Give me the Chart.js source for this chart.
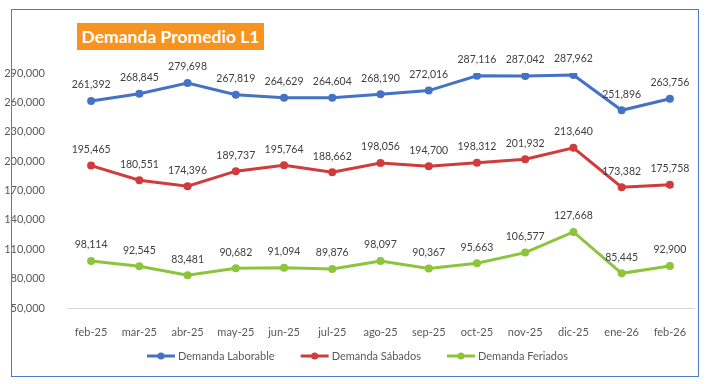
<!DOCTYPE html>
<html>
<head>
<meta charset="utf-8">
<script src="https://cdn.jsdelivr.net/npm/chart.js@4"></script>
<style>
  html, body { margin: 0; padding: 0; background: #fff; }
  #wrap { position: relative; width: 711px; height: 384px; }
  #frame { position: absolute; left: 11px; top: 9px; width: 686px; height: 366px; border: 1.5px solid #4a7cc6; }
  #title {
    position: absolute; left: 77px; top: 23px; width: 187px; height: 27px;
    background: #f7931e; color: #fff; font: bold 17.5px Lato, "Open Sans", sans-serif;
    line-height: 27px; text-align: center;
  }
</style>
</head>
<body>
<div id="wrap">
  <div id="frame"></div>
  <canvas id="chart" width="711" height="384"></canvas>
  <div id="title">Demanda Promedio L1</div>
</div>
<script>
const months = ["feb-25", "mar-25", "abr-25", "may-25", "jun-25", "jul-25", "ago-25", "sep-25", "oct-25", "nov-25", "dic-25", "ene-26", "feb-26"];
const laborable = [261392, 268845, 279698, 267819, 264629, 264604, 268190, 272016, 287116, 287042, 287962, 251896, 263756];
const sabados = [195465, 180551, 174396, 189737, 195764, 188662, 198056, 194700, 198312, 201932, 213640, 173382, 175758];
const feriados = [98114, 92545, 83481, 90682, 91094, 89876, 98097, 90367, 95663, 106577, 127668, 85445, 92900];
const seriesNames = ["Demanda Laborable", "Demanda Sábados", "Demanda Feriados"];
const colors = ["#4472c4", "#d03b3b", "#8cc43c"];

const fontFamily = "Lato, 'Open Sans', sans-serif";

// draws value labels above each point + the bottom legend
const labelsPlugin = {
    id: "labelsPlugin",
    afterDatasetsDraw(chart) {
        const ctx = chart.ctx;
        ctx.save();
        ctx.font = "10.5px " + fontFamily;
        ctx.fillStyle = "#404040";
        ctx.textAlign = "center";
        ctx.textBaseline = "middle";
        chart.data.datasets.forEach((ds, i) => {
            chart.getDatasetMeta(i).data.forEach((pt, j) => {
                ctx.fillText(ds.data[j].toLocaleString("en-US"), pt.x, pt.y - 16);
            });
        });

        // legend
        ctx.font = "11px " + fontFamily;
        ctx.textAlign = "left";
        ctx.fillStyle = "#595959";
        const y = 356;
        let widths = seriesNames.map(n => 31 + ctx.measureText(n).width);
        let gap = 26;
        let total = widths.reduce((a, b) => a + b, 0) + gap * (widths.length - 1);
        let x = (chart.width - total) / 2 + 2;
        seriesNames.forEach((n, i) => {
            ctx.strokeStyle = colors[i];
            ctx.lineWidth = 3;
            ctx.beginPath();
            ctx.moveTo(x, y);
            ctx.lineTo(x + 28, y);
            ctx.stroke();
            ctx.fillStyle = colors[i];
            ctx.beginPath();
            ctx.arc(x + 14, y, 3.5, 0, Math.PI * 2);
            ctx.fill();
            ctx.fillStyle = "#595959";
            ctx.fillText(n, x + 31, y);
            x += widths[i] + gap;
        });
        ctx.restore();
    }
};

function makeDataset(label, data, color) {
    return {
        label: label,
        data: data,
        borderColor: color,
        backgroundColor: color,
        borderWidth: 3,
        pointRadius: 4,
        pointBorderWidth: 0,
        pointHoverRadius: 4,
        pointBackgroundColor: color,
        tension: 0,
        fill: false
    };
}

new Chart(document.getElementById("chart").getContext("2d"), {
    type: "line",
    data: {
        labels: months,
        datasets: [
            makeDataset(seriesNames[0], laborable, colors[0]),
            makeDataset(seriesNames[1], sabados, colors[1]),
            makeDataset(seriesNames[2], feriados, colors[2])
        ]
    },
    options: {
        responsive: false,
        animation: false,
        layout: { padding: { left: 0, right: 17, top: 73, bottom: 46 } },
        plugins: {
            legend: { display: false },
            tooltip: { enabled: false }
        },
        scales: {
            x: {
                offset: true,
                grid: { display: false },
                border: { display: true, color: "#d9d9d9", width: 1 },
                ticks: { color: "#595959", font: { family: fontFamily, size: 11 }, padding: 10, maxRotation: 0, autoSkip: false },
                afterFit(scale) { scale.height = 30; }
            },
            y: {
                min: 50000,
                max: 290000,
                grid: { display: false },
                border: { display: false },
                ticks: {
                    stepSize: 30000,
                    color: "#595959",
                    font: { family: fontFamily, size: 11 },
                    padding: 14,
                    callback: v => v.toLocaleString("en-US")
                },
                afterFit(scale) { scale.width = 67; }
            }
        }
    },
    plugins: [labelsPlugin]
});
</script>
</body>
</html>
